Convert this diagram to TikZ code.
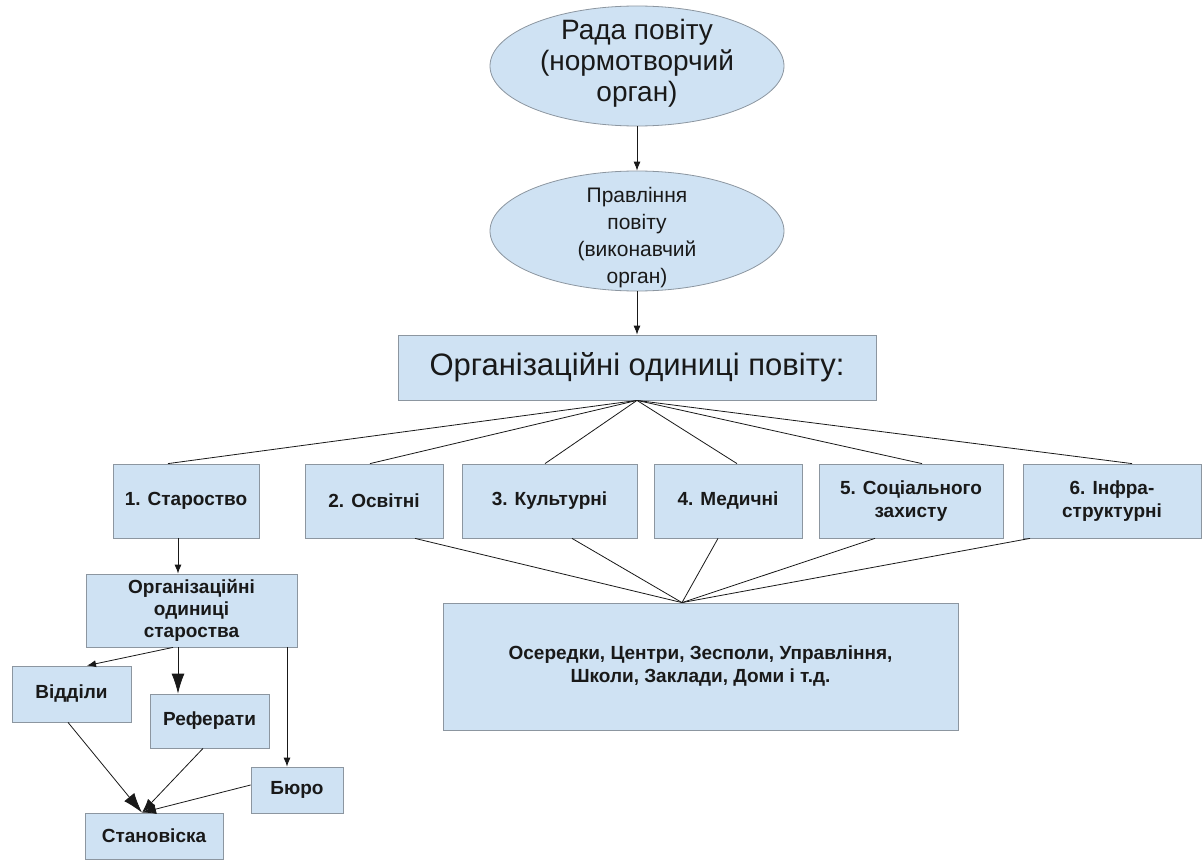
\documentclass[tikz,border=0pt]{standalone}
\usepackage{fontspec}
\setmainfont{Liberation Sans}
\usetikzlibrary{shapes.geometric,arrows.meta}
\definecolor{boxfill}{RGB}{207,226,243}
\definecolor{boxline}{RGB}{140,150,160}
\definecolor{ink}{RGB}{25,25,25}
\begin{document}
\begin{tikzpicture}[x=1pt,y=-1pt,
 ell/.style={ellipse,draw=boxline,fill=boxfill,line width=0.8pt,minimum width=294pt,minimum height=120pt,inner sep=0pt},
 etxt/.style={align=center,text=ink,inner sep=0pt},
 box/.style={rectangle,draw=boxline,fill=boxfill,line width=0.8pt,inner sep=2pt,align=center,text=ink},
 bt/.style={font=\fontsize{19}{23}\selectfont\bfseries},
 rowbox/.style={box,bt,minimum height=74pt},
 conn/.style={draw=ink,line width=0.8pt},
 arrs/.style={conn,-{Latex[length=9pt,width=7pt]}},
 arrm/.style={conn,-{Latex[length=14pt,width=10pt]}},
 arrl/.style={conn,-{Latex[length=20pt,width=13pt]}},
]
\useasboundingbox (0,0) rectangle (1203,867);
\fill[white] (0,0) rectangle (1203,867);

% top ellipses
\node[ell] (rada) at (637,66) {};
\node[etxt,font=\fontsize{28}{31}\selectfont] (radat) at (637,63) {Рада повіту\\(нормотворчий\\орган)};
\node[ell] (prav) at (637,231) {};
\node[etxt,font=\fontsize{21}{27}\selectfont] (pravt) at (637,237.5) {Правління\\повіту\\(виконавчий\\орган)};

% main box
\node[box,minimum width=478pt,minimum height=65pt,font=\fontsize{31}{34}\selectfont] (org) at (637,367.5) {Організаційні одиниці повіту:};

% row of units
\node[rowbox,minimum width=146pt] (st) at (186,501) {1. Староство};
\node[rowbox,minimum width=138pt] (osv) at (374,501) {2. Освітні};
\node[rowbox,minimum width=175pt] (kult) at (549.5,501) {3. Культурні};
\node[rowbox,minimum width=148pt] (med) at (728,501) {4. Медичні};
\node[rowbox,minimum width=184pt] (soc) at (911,501) {5. Соціального\\захисту};
\node[rowbox,minimum width=178pt] (infra) at (1112,501) {6. Інфра-\\структурні};

% bottom box
\node[box,bt,minimum width=515pt,minimum height=127pt] (bot) at (700.5,666.5) {Осередки, Центри, Зесполи, Управління,\\Школи, Заклади, Доми і т.д.};

% lower-left
\node[box,bt,minimum width=211pt,minimum height=73pt,font=\fontsize{19}{22}\selectfont\bfseries] (ost) at (191.5,610.5) {Організаційні\\одиниці\\староства};
\node[box,bt,minimum width=119pt,minimum height=56pt] (vid) at (71.5,694) {Відділи};
\node[box,bt,minimum width=119pt,minimum height=54pt] (ref) at (209.5,721) {Реферати};
\node[box,bt,minimum width=92pt,minimum height=46pt] (buro) at (297,790) {Бюро};
\node[box,bt,minimum width=138pt,minimum height=46pt] (stan) at (154,836) {Становіска};

% top arrows
\draw[arrs] (rada.south) -- (prav.north);
\draw[arrs] (prav.south) -- (org.north);

% fan to units
\draw[conn] (org.south) -- ([xshift=-18pt]st.north);
\draw[conn] (org.south) -- ([xshift=-4pt]osv.north);
\draw[conn] (org.south) -- ([xshift=-4.5pt]kult.north);
\draw[conn] (org.south) -- ([xshift=9pt]med.north);
\draw[conn] (org.south) -- ([xshift=11pt]soc.north);
\draw[conn] (org.south) -- ([xshift=20pt]infra.north);

% fan to bottom box
\coordinate (bin) at ([xshift=-18.5pt]bot.north);
\draw[conn] ([xshift=41pt]osv.south) -- (bin);
\draw[conn] ([xshift=22.5pt]kult.south) -- (bin);
\draw[conn] ([xshift=-10pt]med.south) -- (bin);
\draw[conn] ([xshift=-36pt]soc.south) -- (bin);
\draw[conn] ([xshift=-82pt]infra.south) -- (bin);

% lower-left arrows
\draw[arrs] ([xshift=-8pt]st.south) -- ([xshift=-13.5pt]ost.north);
\draw[arrs] ([xshift=-18.5pt]ost.south) -- ([xshift=15.5pt]vid.north);
\draw[arrl] ([xshift=-13.5pt]ost.south) -- ([xshift=-31.5pt]ref.north);
\draw[arrs] ([xshift=95.5pt]ost.south) -- ([xshift=-10pt]buro.north);
\coordinate (sin) at ([xshift=-12pt]stan.north);
\draw[arrl] ([xshift=-3.5pt]vid.south) -- (sin);
\draw[arrm] ([xshift=-6.5pt]ref.south) -- (sin);
\draw[arrm] ([yshift=5pt]buro.west) -- (sin);
\end{tikzpicture}
\end{document}
